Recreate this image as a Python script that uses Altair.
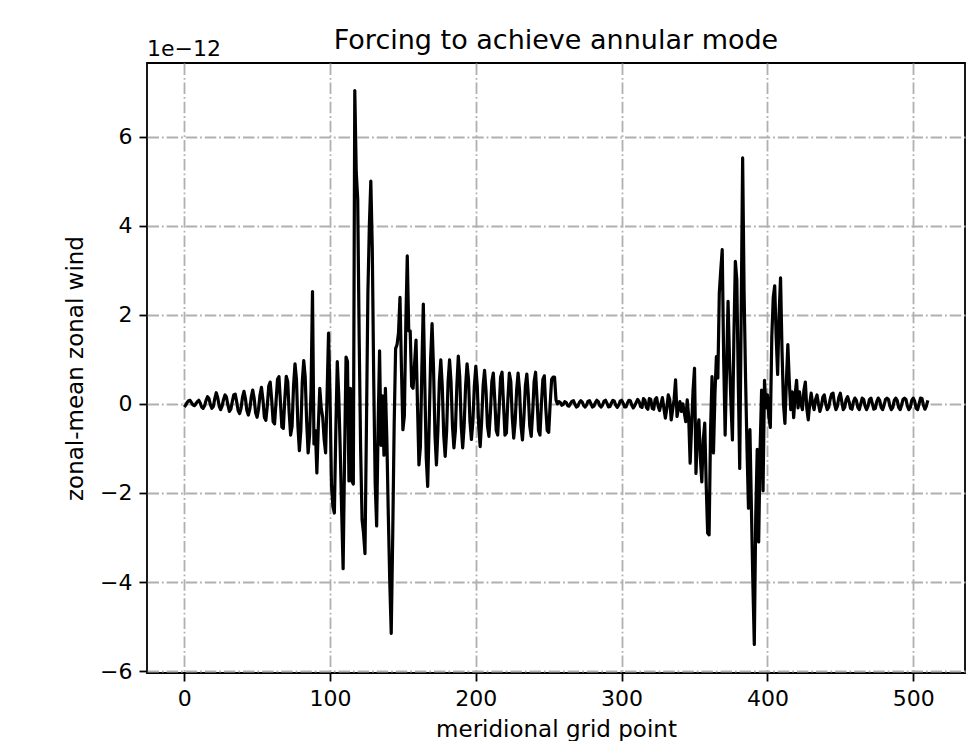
import altair as alt
import pandas as pd

# Forcing values (units of 1e-12), one per meridional grid point
seg_a = [  # grid points 0-87
    -0.07, -0.03, 0.03, 0.07, 0.08, 0.03, -0.02, -0.04, 0.0, 0.05,
    0.08, 0.02, -0.07, -0.1, -0.04, 0.08, 0.16, 0.12, -0.02, -0.1,
    -0.06, 0.12, 0.25, 0.14, -0.05, -0.13, -0.05, 0.1, 0.2, 0.15,
    -0.03, -0.17, -0.12, 0.05, 0.2, 0.22, 0.05, -0.15, -0.22, -0.1,
    0.15, 0.28, 0.12, -0.15, -0.25, -0.12, 0.15, 0.31, 0.12, -0.2,
    -0.3, -0.12, 0.2, 0.37, 0.1, -0.3, -0.37, -0.05, 0.4, 0.49,
    0.1, -0.4, -0.45, 0.05, 0.55, 0.61, 0.05, -0.52, -0.55, 0.1,
    0.62, 0.5, -0.2, -0.7, -0.5, 0.4, 0.9, 0.55, -0.5, -1.05,
    -0.6, 0.5, 0.97, 0.6, -0.4, -1.1, -0.7, 0.3,
]
seg_b = [  # grid points 88-155
    2.52, -0.9, -0.6, -1.55, -0.5, 0.35, -0.1, -0.3, -0.8, -1.1,
    0.2, 1.59, 0.2, -1.8, -2.3, -2.45, -0.6, 0.95, 0.2, -1.0,
    -2.4, -3.7, -1.2, 1.05, 0.95, -1.73, 0.35, -1.73, -1.8, 7.03,
    5.2, 4.6, 1.5, -1.0, -2.6, -2.9, -3.36, -0.5, 2.5, 4.0,
    5.0, 3.5, 0.5, -1.8, -2.74, -0.5, 1.19, -0.93, 0.18, -1.15,
    0.35, -0.8, -2.5, -4.0, -5.15, -3.0, -0.5, 1.24, 1.33, 1.6,
    2.39, 0.8, -0.58, -0.27, 1.8, 3.32, 1.64, 1.64,
]
seg_c = [  # grid points 156-255
    0.4, 0.35, 0.9, 1.43, 0.0, -1.37, -0.96, 0.8, 2.24, 0.5,
    -1.2, -1.85, -0.5, 1.0, 1.8, 0.8, -0.7, -1.37, -0.6, 0.5,
    0.99, 0.4, -0.7, -1.18, -0.6, 0.5, 0.99, 0.5, -0.5, -0.99,
    -0.6, 0.4, 1.07, 0.6, -0.5, -0.99, -0.5, 0.4, 0.9, 0.55,
    -0.4, -0.8, -0.4, 0.4, 0.84, 0.4, -0.5, -0.96, -0.4, 0.4,
    0.75, 0.3, -0.5, -0.73, -0.2, 0.5, 0.69, 0.1, -0.6, -0.7,
    -0.1, 0.6, 0.71, 0.0, -0.7, -0.65, 0.1, 0.69, 0.5, -0.3,
    -0.77, -0.4, 0.3, 0.69, 0.3, -0.5, -0.81, -0.3, 0.4, 0.67,
    0.2, -0.5, -0.73, -0.2, 0.5, 0.71, 0.1, -0.6, -0.7, 0.0,
    0.55, 0.63, -0.1, -0.6, -0.64, 0.0, 0.55, 0.6, 0.6, 0.09,
]
seg_d = [  # grid points 256-329
    0.0, 0.05, 0.03, -0.03, -0.01, 0.05, 0.03, -0.04, -0.05, 0.01,
    0.06, 0.07, -0.01, -0.07, -0.05, 0.03, 0.07, 0.04, -0.04, -0.07,
    -0.02, 0.06, 0.07, 0.0, -0.07, -0.05, 0.03, 0.08, 0.05, -0.04,
    -0.07, -0.02, 0.06, 0.08, 0.01, -0.07, -0.06, 0.02, 0.08, 0.06,
    -0.03, -0.08, -0.03, 0.06, 0.08, 0.02, -0.07, -0.07, 0.02, 0.08,
    0.07, -0.03, -0.09, -0.04, 0.03, 0.1, 0.05, -0.06, -0.08, 0.12,
    0.08, -0.08, -0.12, 0.12, 0.1, -0.1, -0.12, 0.1, 0.14, -0.05,
    -0.15, 0.0, 0.14, -0.1,
]
seg_e = [  # grid points 330-419
    -0.32, -0.1, 0.2, 0.1, -0.36, -0.13, 0.1, 0.54, -0.28, -0.1,
    0.05, -0.17, 0.0, -0.2, -0.4, 0.09, -0.3, -1.33, -0.5, 0.3,
    0.8, -1.56, -0.6, -0.36, -1.2, -1.75, -0.8, -0.43, -1.8, -2.9,
    -2.94, -0.58, 0.61, -1.1, 0.2, 1.06, 0.58, 2.49, 3.0, 3.46,
    1.0, -0.7, 0.8, 2.3, 1.0, 0.0, -0.81, 1.5, 3.2, 2.79,
    0.5, -1.45, 2.0, 5.52, 2.5, 0.58, -1.0, -2.34, -0.58, -2.3,
    -4.0, -5.4, -2.5, -1.02, -3.1, -1.0, 0.31, -1.95, 0.53, -0.09,
    0.2, -0.3, -0.53, 1.5, 2.39, 2.65, 1.5, 0.66, 2.0, 2.83,
    1.2, 0.0, -0.44, 0.5, 1.33, 0.5, -0.13, 0.27, -0.31, 0.2,
]
seg_f = [  # grid points 420-510
    0.53, -0.09, 0.27, 0.0, -0.13, 0.3, 0.49, -0.1, -0.36, 0.0,
    0.24, 0.0, -0.13, 0.1, 0.2, 0.0, -0.17, -0.05, 0.15, 0.2,
    0.0, -0.13, -0.08, 0.1, 0.22, 0.24, 0.0, -0.13, -0.05, 0.15,
    0.24, 0.05, -0.13, -0.08, 0.1, 0.16, 0.05, -0.1, -0.12, 0.05,
    0.13, 0.08, -0.08, -0.13, 0.0, 0.13, 0.1, -0.05, -0.13, -0.05,
    0.1, 0.13, 0.0, -0.12, -0.1, 0.05, 0.13, 0.08, -0.08, -0.13,
    -0.03, 0.1, 0.13, 0.1, -0.05, -0.13, -0.08, 0.08, 0.13, 0.08,
    -0.08, -0.13, -0.03, 0.1, 0.13, 0.1, -0.05, -0.13, -0.08, 0.08,
    0.13, 0.06, -0.1, -0.13, 0.0, 0.13, 0.12, -0.03, -0.12, -0.05,
    0.08,
]

forcing = seg_a + seg_b + seg_c + seg_d + seg_e + seg_f
grid_point = list(range(len(forcing)))

x_ticks = [0, 100, 200, 300, 400, 500]
y_ticks = [-6, -4, -2, 0, 2, 4, 6]

title_text = "Forcing to achieve annular mode"
offset_label = "1e\u221212"

FONT = "DejaVu Sans"
PLOT_W, PLOT_H = 818, 610

df = pd.DataFrame({"grid_point": grid_point, "forcing": forcing})

line = alt.Chart(df).mark_line(
    color="black", strokeWidth=3.2, strokeJoin="round", clip=True
).encode(
    x=alt.X(
        "grid_point:Q",
        scale=alt.Scale(domain=[-25.5, 535.5], nice=False, zero=False),
        axis=alt.Axis(
            values=x_ticks, format="d", title="meridional grid point",
            titleY=63, titleBaseline="alphabetic",
        ),
    ),
    y=alt.Y(
        "forcing:Q",
        scale=alt.Scale(domain=[-6.04, 7.65], nice=False, zero=False),
        axis=alt.Axis(
            values=y_ticks, format="d", title="zonal-mean zonal wind",
            titleX=-65, titleAngle=270, titleBaseline="alphabetic",
        ),
    ),
)

offset_mark = alt.Chart(pd.DataFrame({"t": [offset_label]})).mark_text(
    align="left", baseline="alphabetic", fontSize=22, font=FONT, color="black"
).encode(x=alt.value(0), y=alt.value(-7), text="t:N")

title_mark = alt.Chart(pd.DataFrame({"t": [title_text]})).mark_text(
    align="center", baseline="alphabetic", fontSize=27, font=FONT, color="black"
).encode(x=alt.value(PLOT_W / 2), y=alt.value(-14), text="t:N")

chart = alt.layer(line, offset_mark, title_mark).properties(
    width=PLOT_W,
    height=PLOT_H,
    autosize=alt.AutoSizeParams(type="none"),
    padding={"left": 147, "top": 63, "right": 4, "bottom": 68},
).configure_view(
    stroke="black", strokeWidth=1.8
).configure_axis(
    labelFont=FONT, labelFontSize=22, labelColor="black", labelPadding=7,
    tickColor="black", tickSize=8, tickWidth=1.8,
    domain=False, grid=True, gridColor="#b0b0b0", gridDash=[11.5, 2.9, 1.8, 2.9],
    gridWidth=1.8, titleFont=FONT, titleFontSize=23, titleFontWeight="normal",
    titleColor="black",
)

chart.save("out.html", embed_options={"renderer": "svg", "actions": False})
